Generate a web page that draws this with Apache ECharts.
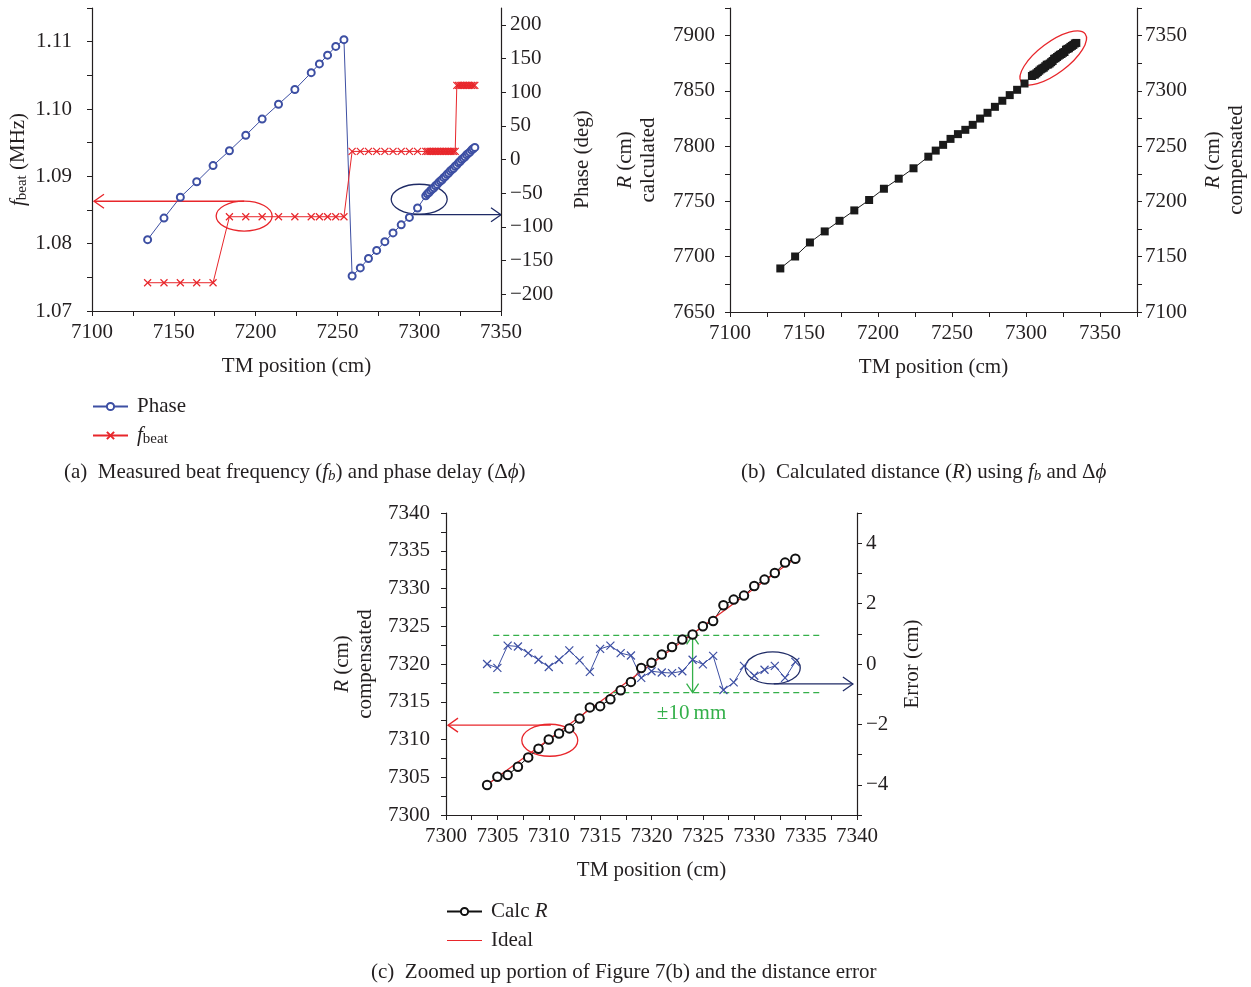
<!DOCTYPE html>
<html>
<head>
<meta charset="utf-8">
<script src="https://cdn.jsdelivr.net/npm/echarts@6/dist/echarts.min.js"></script>
<style>
html, body { margin: 0; padding: 0; background: #fff; }
#main { width: 1251px; height: 987px; }
</style>
</head>
<body>
<div id="main"></div>
<script>
// TM positions (cm): coarse steps, then the 1 cm steps of the zoomed part
const tmCoarse = [7134, 7144, 7154, 7164, 7174, 7184, 7194, 7204, 7214, 7224, 7234,
  7239, 7244, 7249, 7254, 7259, 7264, 7269, 7274, 7279, 7284, 7289, 7294, 7299];
const tmFine = [7304, 7305, 7306, 7307, 7308, 7309, 7310, 7311, 7312, 7313, 7314,
  7315, 7316, 7317, 7318, 7319, 7320, 7321, 7322, 7323, 7324, 7325, 7326, 7327,
  7328, 7329, 7330, 7331, 7332, 7333, 7334];
const tmAll = tmCoarse.concat(tmFine);

// (a) phase delay (deg) and beat frequency (MHz)
const phaseDeg = [-119, -87, -56, -33, -9, 13, 36, 60, 82, 104, 129,
  142, 155, 168, 178, -173, -161, -147, -135, -122, -109, -97, -86, -72,
  -54, -51, -49, -46, -44, -42, -39, -37, -34, -32, -30, -27, -25, -22, -20, -17,
  -15, -13, -10, -8, -5, -3, 0, 2, 4, 7, 9, 11, 14, 16, 18];
const fbeatMHz = [1.0742, 1.0742, 1.0742, 1.0742, 1.0742,
  1.0840, 1.0840, 1.0840, 1.0840, 1.0840, 1.0840, 1.0840, 1.0840, 1.0840, 1.0840,
  1.0937, 1.0937, 1.0937, 1.0937, 1.0937, 1.0937, 1.0937, 1.0937, 1.0937,
  1.0937, 1.0937, 1.0937, 1.0937, 1.0937, 1.0937, 1.0937, 1.0937, 1.0937, 1.0937,
  1.0937, 1.0937, 1.0937, 1.0937, 1.0937, 1.0937, 1.0937, 1.0937, 1.0937,
  1.1035, 1.1035, 1.1035, 1.1035, 1.1035, 1.1035, 1.1035, 1.1035, 1.1035, 1.1035,
  1.1035, 1.1035];

// (b) calculated distance (cm)
const rCalc = [7689.4, 7700.2, 7712.9, 7722.9, 7732.5, 7741.9, 7751.3, 7761.5, 7770.6,
  7780.0, 7790.5, 7796.0, 7801.2, 7806.6, 7810.9, 7814.8, 7819.3, 7825.0, 7830.2,
  7835.6, 7841.1, 7846.2, 7851.0, 7856.7,
  7863.5, 7864.6, 7864.8, 7865.9, 7867.1, 7868.3, 7869.5, 7870.3, 7871.0, 7872.3,
  7873.7, 7873.9, 7874.8, 7876.0, 7877.1, 7879.0, 7879.6, 7880.7, 7881.8, 7882.7,
  7883.4, 7884.5, 7885.2, 7887.3, 7888.0, 7888.6, 7889.8, 7890.7, 7891.6, 7892.9, 7893.4];

// (c) compensated distance (cm) and error (cm)
const calcR = [7303.97, 7305.07, 7305.29, 7306.39, 7307.63, 7308.77, 7310.01, 7310.8,
  7311.47, 7312.79, 7314.25, 7314.42, 7315.34, 7316.53, 7317.63, 7319.48, 7320.15,
  7321.25, 7322.26, 7323.24, 7323.9, 7325.0, 7325.7, 7327.78, 7328.53, 7329.06,
  7330.33, 7331.18, 7332.05, 7333.43, 7333.95];
const errCm = [0.0, -0.13, 0.61, 0.58, 0.36, 0.14, -0.1, 0.14, 0.45, 0.12, -0.26,
  0.5, 0.61, 0.36, 0.28, -0.46, -0.24, -0.28, -0.3, -0.24, 0.14, -0.01, 0.27,
  -0.86, -0.61, -0.06, -0.39, -0.19, -0.06, -0.46, 0.07];
const bandX = [7304.6, 7336.6];
const bandCm = [0.95, -0.95];

const FONT = "'Liberation Serif', 'DejaVu Serif', serif";
const INK = '#231f20';
const BLUE = '#3d4fa3';
const NAVY = '#1f2b66';
const RED = '#e8262b';
const GREEN = '#34b04a';
const XMARK = 'path://M0,0L10,10M10,0L0,10';
const DASH_ICON = 'path://M0,0H40V1.4H0Z';

const zip = (xs, ys) => xs.map((x, i) => [x, ys[i]]);
const minus = v => String(v).replace('-', '\u2212');
const rich = {
  i: { fontStyle: 'italic', fontSize: 21, fontFamily: FONT, color: INK },
  s: { fontSize: 15, fontFamily: FONT, color: INK, verticalAlign: 'bottom', lineHeight: 12 }
};

function axis(o) {
  return Object.assign({
    type: 'value',
    splitLine: { show: false },
    axisLine: { show: true, onZero: false, lineStyle: { color: INK, width: 1.2 } },
    axisTick: { show: true, inside: false, length: 5, lineStyle: { color: INK, width: 1 } },
    nameLocation: 'middle',
    nameTextStyle: { fontSize: 21, fontFamily: FONT, color: INK, rich: rich, lineHeight: 23 }
  }, o);
}
function lab(margin, fmt, extra) {
  return Object.assign({ color: INK, fontSize: 21, fontFamily: FONT, margin: margin, formatter: fmt }, extra || {});
}
const every = (step, digits) => v => {
  const k = Math.round(v / step * 1000) / 1000;
  return Number.isInteger(k) ? minus(digits ? v.toFixed(digits) : v) : '';
};
function legendBox(left, top, names, fmt) {
  return { left: left, top: top, orient: 'vertical', padding: 0, itemWidth: 35, itemHeight: 9, itemGap: 6,
    selectedMode: false, data: names, formatter: fmt,
    textStyle: { fontSize: 21, fontFamily: FONT, color: INK, padding: [0, 0, 0, 4], lineHeight: 23, rich: rich } };
}

const chart = echarts.init(document.getElementById('main'));

const option = {
  animation: false,
  backgroundColor: '#fff',
  grid: [
    { left: 92, top: 8, width: 409, height: 303 },
    { left: 730, top: 8, width: 407, height: 304 },
    { left: 446, top: 513, width: 411, height: 302 }
  ],
  xAxis: [
    axis({ gridIndex: 0, min: 7100, max: 7350, interval: 25, axisLabel: lab(11, every(50)),
      name: 'TM position (cm)', nameGap: 44 }),
    axis({ gridIndex: 1, min: 7100, max: 7375, interval: 25, axisLabel: lab(11, every(50)),
      name: 'TM position (cm)', nameGap: 44 }),
    axis({ gridIndex: 2, min: 7300, max: 7340, interval: 2.5, axisLabel: lab(11, every(5)),
      name: 'TM position (cm)', nameGap: 44 })
  ],
  yAxis: [
    axis({ gridIndex: 0, min: 1.07, max: 1.115, interval: 0.005, axisLabel: lab(20, every(0.01, 2)),
      name: '{i|f}{s|beat} (MHz)', nameGap: 62 }),
    axis({ gridIndex: 0, position: 'right', min: -225, max: 225, interval: 25,
      axisTick: { show: true, length: 5, lineStyle: { color: INK },
        customValues: [-200, -150, -100, -50, 0, 50, 100, 150, 200] },
      axisLabel: lab(9, v => minus(v), { customValues: [-200, -150, -100, -50, 0, 50, 100, 150, 200] }),
      name: 'Phase (deg)', nameGap: 70 }),
    axis({ gridIndex: 1, min: 7650, max: 7925, interval: 25, axisLabel: lab(15, every(50)),
      name: '{i|R} (cm)\ncalculated', nameGap: 70 }),
    axis({ gridIndex: 1, position: 'right', min: 7100, max: 7375, interval: 25, axisLabel: lab(8, every(50)),
      name: '{i|R} (cm)\ncompensated', nameGap: 65 }),
    axis({ gridIndex: 2, min: 7300, max: 7340, interval: 2.5, axisLabel: lab(16, every(5)),
      name: '{i|R} (cm)\ncompensated', nameGap: 69 }),
    axis({ gridIndex: 2, position: 'right', min: -5, max: 5, interval: 1,
      axisLabel: lab(9, v => (v % 2 === 0 && Math.abs(v) < 5) ? minus(v) : ''),
      name: 'Error (cm)', nameGap: 44 })
  ],
  legend: [
    legendBox(92, 395, ['Phase', 'fbeat'], n => n === 'fbeat' ? '{i|f}{s|beat}' : n),
    legendBox(446, 900, ['Calc R', { name: 'Ideal', icon: DASH_ICON }], n => n === 'Calc R' ? 'Calc {i|R}' : n)
  ],
  series: [
    { name: 'Phase', type: 'line', xAxisIndex: 0, yAxisIndex: 1, data: zip(tmAll, phaseDeg),
      symbol: 'emptyCircle', symbolSize: 7, color: BLUE,
      itemStyle: { borderWidth: 1.2 }, lineStyle: { width: 1, color: BLUE } },
    { name: 'fbeat', type: 'line', xAxisIndex: 0, yAxisIndex: 0, data: zip(tmAll, fbeatMHz),
      symbol: XMARK, symbolSize: 7, color: RED,
      itemStyle: { borderColor: RED, borderWidth: 1.2 }, lineStyle: { width: 1, color: RED } },
    { name: 'Rcalc', type: 'line', xAxisIndex: 1, yAxisIndex: 2, data: zip(tmAll, rCalc),
      symbol: 'rect', symbolSize: 8, color: '#1a1a1a', lineStyle: { width: 1, color: '#1a1a1a' } },
    { name: 'Calc R', type: 'line', xAxisIndex: 2, yAxisIndex: 4, data: zip(tmFine, calcR),
      symbol: 'emptyCircle', symbolSize: 8.5, color: '#111',
      itemStyle: { borderWidth: 1.1 }, lineStyle: { width: 1, color: '#111' } },
    { name: 'Ideal', type: 'line', xAxisIndex: 2, yAxisIndex: 4, z: 3,
      data: [[tmFine[0], tmFine[0]], [tmFine[tmFine.length - 1], tmFine[tmFine.length - 1]]],
      symbol: 'none', color: RED, lineStyle: { width: 1.2, color: RED } },
    { name: 'Error', type: 'line', xAxisIndex: 2, yAxisIndex: 5, data: zip(tmFine, errCm),
      symbol: XMARK, symbolSize: 8, color: BLUE,
      itemStyle: { borderColor: BLUE, borderWidth: 1.2 }, lineStyle: { width: 1, color: BLUE } },
    { name: 'bandUp', type: 'line', xAxisIndex: 2, yAxisIndex: 5, symbol: 'none',
      data: [[bandX[0], bandCm[0]], [bandX[1], bandCm[0]]],
      lineStyle: { color: GREEN, width: 1.2, type: [6, 4] } },
    { name: 'bandLow', type: 'line', xAxisIndex: 2, yAxisIndex: 5, symbol: 'none',
      data: [[bandX[0], bandCm[1]], [bandX[1], bandCm[1]]],
      lineStyle: { color: GREEN, width: 1.2, type: [6, 4] } }
  ]
};
chart.setOption(option);

// annotations placed from data coordinates
const px = (xi, yi, pt) => chart.convertToPixel({ xAxisIndex: xi, yAxisIndex: yi }, pt);
const g = [];
function ellipse(c, rx, ry, color, rot) {
  g.push({ type: 'ellipse', x: c[0], y: c[1], rotation: rot || 0,
    shape: { cx: 0, cy: 0, rx: rx, ry: ry }, style: { fill: 'none', stroke: color, lineWidth: 1.3 } });
}
function arrowH(x1, x2, y, color) {
  const d = x2 > x1 ? -1 : 1;
  g.push({ type: 'polyline', shape: { points: [[x1, y], [x2, y]] }, style: { stroke: color, lineWidth: 1.3, fill: 'none' } });
  g.push({ type: 'polyline', shape: { points: [[x2 + d * 10, y - 7], [x2, y], [x2 + d * 10, y + 7]] },
    style: { stroke: color, lineWidth: 1.3, fill: 'none' } });
}
function arrowV(x, y1, y2, color) {
  g.push({ type: 'polyline', shape: { points: [[x, y1], [x, y2]] }, style: { stroke: color, lineWidth: 1.3, fill: 'none' } });
  g.push({ type: 'polyline', shape: { points: [[x - 6, y1 + 9], [x, y1], [x + 6, y1 + 9]] }, style: { stroke: color, lineWidth: 1.3, fill: 'none' } });
  g.push({ type: 'polyline', shape: { points: [[x - 6, y2 - 9], [x, y2], [x + 6, y2 - 9]] }, style: { stroke: color, lineWidth: 1.3, fill: 'none' } });
}
function text(x, y, t, opt) {
  g.push({ type: 'text', x: x, y: y, style: Object.assign({ text: t, fontSize: 21, fontFamily: FONT, fill: INK,
    verticalAlign: 'middle', lineHeight: 24, rich: {
      i: { fontStyle: 'italic', fontSize: 21, fontFamily: FONT, fill: INK, lineHeight: 24 },
      sb: { fontStyle: 'italic', fontSize: 15, fontFamily: FONT, fill: INK, verticalAlign: 'top',
        padding: [9, 0, 0, 0], lineHeight: 15 }
    } }, opt || {}) });
}

// (a)
ellipse(px(0, 0, [7193, 1.0841]), 28, 15, RED);
let p = px(0, 0, [7193, 1.0863]);
arrowH(p[0], px(0, 0, [7100, 1.0863])[0] + 2, p[1], RED);
ellipse(px(0, 1, [7300, -59]), 28, 15, NAVY);
p = px(0, 1, [7296.5, -82]);
arrowH(p[0], px(0, 1, [7350, -82])[0], p[1], NAVY);
// (b)
ellipse(px(1, 2, [7318.4, 7879.8]), 40, 15.5, RED, 37 * Math.PI / 180);
// (c)
ellipse(px(2, 4, [7310.1, 7309.9]), 28, 16, RED);
p = px(2, 4, [7310.2, 7311.9]);
arrowH(p[0], px(2, 4, [7300, 7311.9])[0] + 2, p[1], RED);
ellipse(px(2, 5, [7331.8, -0.13]), 27.5, 16, NAVY);
p = px(2, 5, [7331.9, -0.66]);
arrowH(p[0], px(2, 5, [7339.6, -0.66])[0], p[1], NAVY);
const gt = px(2, 5, [7324, bandCm[0]]), gb = px(2, 5, [7324, bandCm[1]]);
arrowV(gt[0], gt[1], gb[1], GREEN);
p = px(2, 5, [7323.9, -1.64]);
text(p[0], p[1], '\u00b110\u2009mm', { fill: GREEN, align: 'center' });

// captions
text(64, 472, '(a)  Measured beat frequency ({i|f}{sb|b}) and phase delay (\u0394{i|\u03d5})');
text(741, 472, '(b)  Calculated distance ({i|R}) using {i|f}{sb|b} and \u0394{i|\u03d5}');
text(371, 972, '(c)  Zoomed up portion of Figure 7(b) and the distance error');

chart.setOption({ graphic: g });
</script>
</body>
</html>
